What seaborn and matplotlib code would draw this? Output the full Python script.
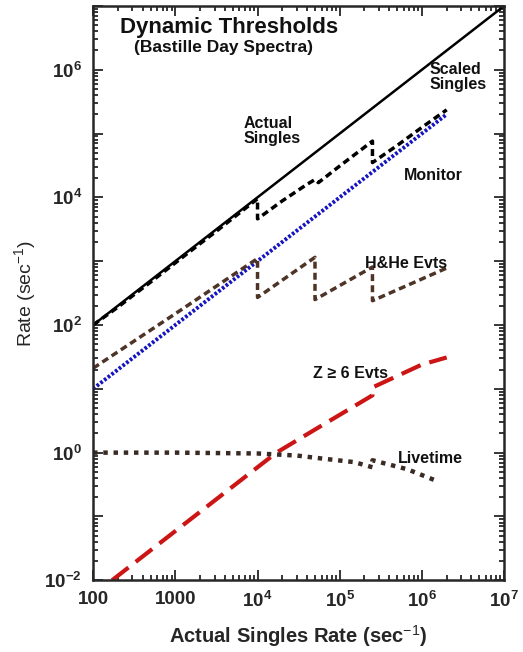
import numpy as np
import pandas as pd
import matplotlib
matplotlib.use("Agg")
import matplotlib.pyplot as plt
import matplotlib.ticker as mticker
import seaborn as sns

# --- data ---
actual_x = [100, 1e7]
actual_y = [100, 1e7]

scaled_x = [100, 200, 300, 500, 1000, 2000, 3000, 5000, 10000, 10000, 20000,
            40000, 50000, 55000, 100000, 250000, 250000, 500000, 1000000, 2000000]
scaled_y = [100, 190, 285, 470, 940, 1880, 2800, 4700, 9500, 4600, 8800,
            16000, 19000, 17000, 31000, 76000, 35000, 65000, 125000, 235000]

monitor_x = [100, 2e6]
monitor_y = [10, 2e5]

hhe_x = [100, 1000, 10000, 10000, 50000, 50000, 250000, 250000, 2000000]
hhe_y = [21, 150, 1100, 270, 1150, 250, 810, 240, 780]

z6_x = [170, 1000, 10000, 17000, 50000, 250000, 250000, 1000000, 2000000]
z6_y = [0.01, 0.059, 0.59, 1.0, 2.3, 7.9, 10.5, 24, 31]

live_x = [100, 1000, 10000, 30000, 60000, 150000, 250000, 250000, 660000, 1600000]
live_y = [1.0, 1.0, 0.97, 0.9, 0.81, 0.71, 0.59, 0.76, 0.55, 0.35]

sns.set_style("ticks")
plt.rcParams["font.family"] = ["Liberation Sans", "DejaVu Sans"]
plt.rcParams["mathtext.fontset"] = "custom"
plt.rcParams["mathtext.rm"] = "Liberation Sans"
plt.rcParams["mathtext.bf"] = "Liberation Sans:bold"

fig = plt.figure(figsize=(5.23, 6.52), dpi=100)
ax = fig.add_axes([0.178, 0.110, 0.786, 0.881])


def draw(x, y, **kw):
    df = pd.DataFrame({"x": x, "y": y})
    sns.lineplot(data=df, x="x", y="y", sort=False, estimator=None, ax=ax, **kw)


draw(actual_x, actual_y, color="black", linewidth=1.8)
draw(monitor_x, monitor_y, color="#1414c0", linewidth=2.8, linestyle=(0, (0.7, 0.5)))
draw(scaled_x, scaled_y, color="black", linewidth=2.5, linestyle=(0, (2.0, 1.2)))
draw(hhe_x, hhe_y, color="#4e3426", linewidth=2.5, linestyle=(0, (2.0, 1.2)))
draw(z6_x, z6_y, color="#cc1515", linewidth=3.0, linestyle=(0, (5.0, 2.2)))
draw(live_x, live_y, color="#3a2a24", linewidth=3.2, linestyle=(0, (1.0, 1.3)))

ax.set_xscale("log")
ax.set_yscale("log")
ax.set_xlim(100, 1e7)
ax.set_ylim(1e-2, 1e7)

ax.xaxis.set_major_locator(mticker.LogLocator(base=10, numticks=20))
ax.xaxis.set_minor_locator(mticker.LogLocator(base=10, subs=np.arange(2, 10), numticks=50))
ax.yaxis.set_major_locator(mticker.LogLocator(base=10, numticks=20))
ax.yaxis.set_minor_locator(mticker.LogLocator(base=10, subs=np.arange(2, 10), numticks=50))


def xfmt(v, pos):
    e = int(round(np.log10(v)))
    if e <= 3:
        return f"{int(round(v))}"
    return f"$\\mathbf{{10^{{{e}}}}}$"


def yfmt(v, pos):
    e = int(round(np.log10(v)))
    if e % 2 != 0:
        return ""
    return f"$\\mathbf{{10^{{{e}}}}}$"


ax.xaxis.set_major_formatter(mticker.FuncFormatter(xfmt))
ax.yaxis.set_major_formatter(mticker.FuncFormatter(yfmt))
ax.xaxis.set_minor_formatter(mticker.NullFormatter())
ax.yaxis.set_minor_formatter(mticker.NullFormatter())

ax.tick_params(which="both", direction="in", top=True, right=True, width=1.3)
ax.tick_params(which="major", length=7, labelsize=13.5, pad=8)
ax.tick_params(which="minor", length=3.5)
for lab in ax.get_xticklabels() + ax.get_yticklabels():
    lab.set_fontweight("bold")
for s in ax.spines.values():
    s.set_linewidth(1.8)

ax.set_xlabel("Actual Singles Rate (sec$^{-1}$)", fontsize=14.5, fontweight="bold", labelpad=8)
ax.set_ylabel("Rate (sec$^{-1}$)", fontsize=14, labelpad=4)

# annotations in axes fraction coordinates
tk = dict(transform=ax.transAxes, fontweight="bold", color="#111111")
ax.text(0.066, 0.962, "Dynamic Thresholds", fontsize=16, ha="left", va="center", **tk)
ax.text(0.100, 0.928, "(Bastille Day Spectra)", fontsize=12.5, ha="left", va="center", **tk)
ax.text(0.818, 0.876, "Scaled\nSingles", fontsize=11.5, ha="left", va="center", linespacing=1.0, **tk)
ax.text(0.365, 0.782, "Actual\nSingles", fontsize=11.5, ha="left", va="center", linespacing=1.0, **tk)
ax.text(0.757, 0.705, "Monitor", fontsize=11.5, ha="left", va="center", **tk)
ax.text(0.662, 0.551, "H&He Evts", fontsize=11.5, ha="left", va="center", **tk)
ax.text(0.535, 0.360, "Z \u2265 6 Evts", fontsize=11.5, ha="left", va="center", **tk)
ax.text(0.742, 0.212, "Livetime", fontsize=11.5, ha="left", va="center", **tk)

fig.savefig("out.png", dpi=100)
